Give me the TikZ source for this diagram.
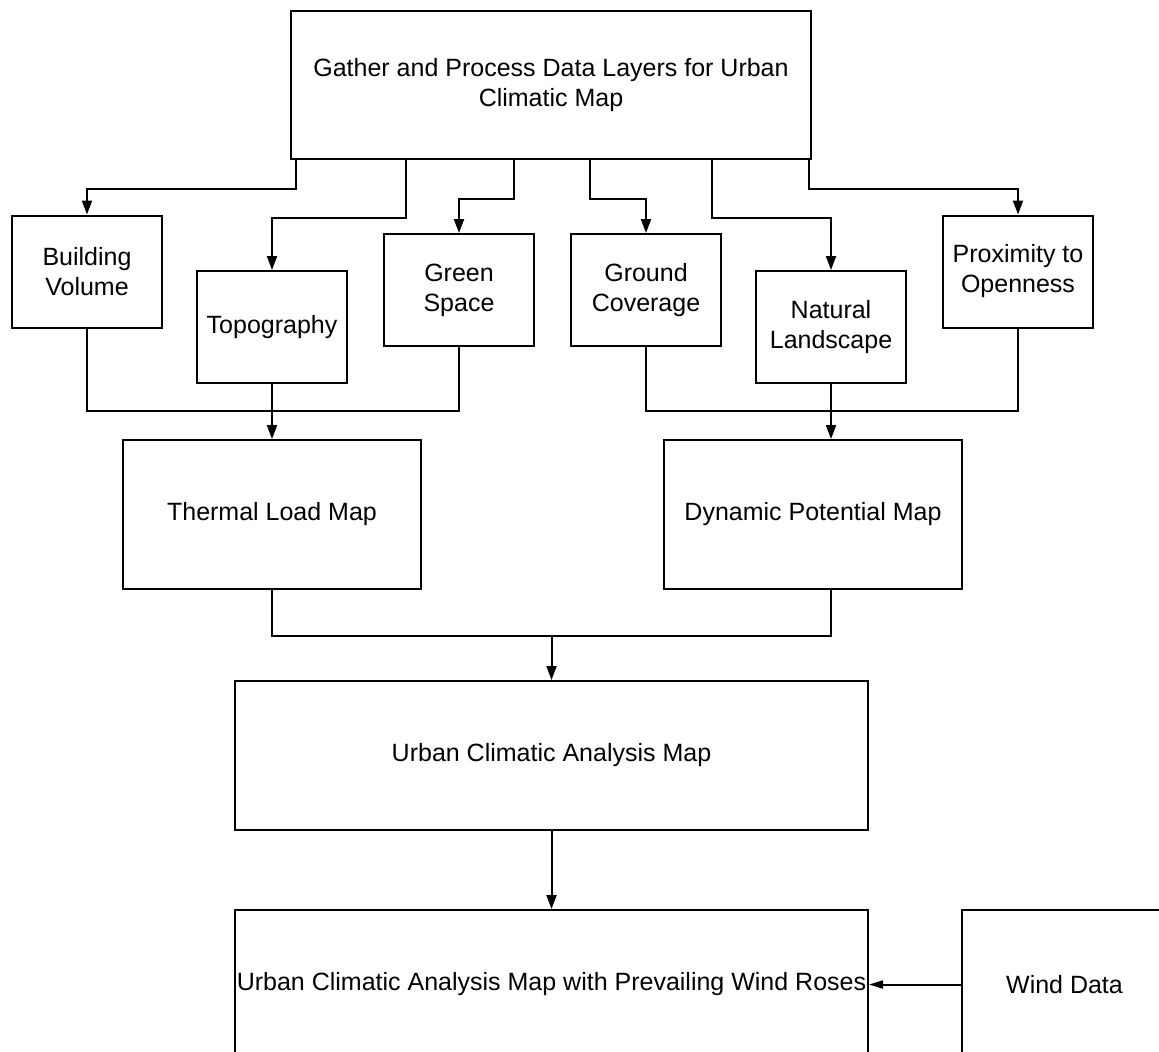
\documentclass[tikz,border=0pt]{standalone}
\usepackage{fontspec}
\setmainfont{Liberation Sans}
\usetikzlibrary{arrows.meta,positioning,calc}

\begin{document}
\begin{tikzpicture}[
  x=0.5pt,
  y=-0.5pt,
  line width=1pt,
  box/.style={
    draw=black,
    inner sep=0pt,
    align=center,
    font=\fontsize{12.5}{15}\selectfont
  },
  layer/.style={box,minimum width=75pt,minimum height=56pt},
  mapbox/.style={box,minimum width=149pt,minimum height=74.5pt},
  widebox/.style={box,minimum width=316.5pt,minimum height=74.5pt},
  arr/.style={-{Triangle[length=7pt,width=5pt]}},
  sidearr/.style={-{Triangle[length=7pt,width=4pt]}}
]
\clip (0,0) rectangle (1159,1051);

\node[box,minimum width=260pt,minimum height=74pt] (top) at (551,85)
  {Gather and Process Data Layers for Urban\\Climatic Map};

\node[layer] (bv) at (87,271.5) {Building\\Volume};
\node[layer] (topo) at (272,327) {Topography};
\node[layer] (gs) at (459,290) {Green\\Space};
\node[layer] (gc) at (646,290) {Ground\\Coverage};
\node[layer] (nl) at (831,327) {Natural\\Landscape};
\node[layer] (po) at (1018,271.5) {Proximity to\\Openness};

\node[mapbox] (tl) at (272,514.5) {Thermal Load Map};
\node[mapbox] (dp) at (813,514.5) {Dynamic Potential Map};

\node[widebox] (ua) at (551.5,755.5) {Urban Climatic Analysis Map};
\node[widebox,below=39pt of ua] (uw)
  {Urban Climatic Analysis Map with Prevailing Wind Roses};
\node[box,minimum width=102.5pt,minimum height=74.5pt,right=46pt of uw]
  (wd) {Wind Data};

% layers
\draw[arr] ($(top.south)+(-255,0)$) -- ++(0,29) -| (bv.north);
\draw[arr] ($(top.south)+(-145,0)$) -- ++(0,58) -| (topo.north);
\draw[arr] ($(top.south)+(-37,0)$) -- ++(0,39) -| (gs.north);
\draw[arr] ($(top.south)+(39,0)$) -- ++(0,39) -| (gc.north);
\draw[arr] ($(top.south)+(161,0)$) -- ++(0,58) -| (nl.north);
\draw[arr] ($(top.south)+(258,0)$) -- ++(0,29) -| (po.north);

% thermal load side
\draw (bv.south) -- ++(0,82) -| (gs.south);
\draw[arr] (topo.south) -- (tl.north);

% dynamic potential side
\draw (gc.south) -- ++(0,64) -| (po.south);
\draw[arr] (nl.south) -- (nl.south |- dp.north);

% analysis
\draw (tl.south) -- ++(0,46) coordinate (jn) -| (nl.south |- dp.south);
\draw[arr] (jn -| ua.north) -- (ua.north);
\draw[arr] (ua.south) -- (uw.north);
\draw[sidearr] (wd.west) -- (uw.east);
\end{tikzpicture}
\end{document}
